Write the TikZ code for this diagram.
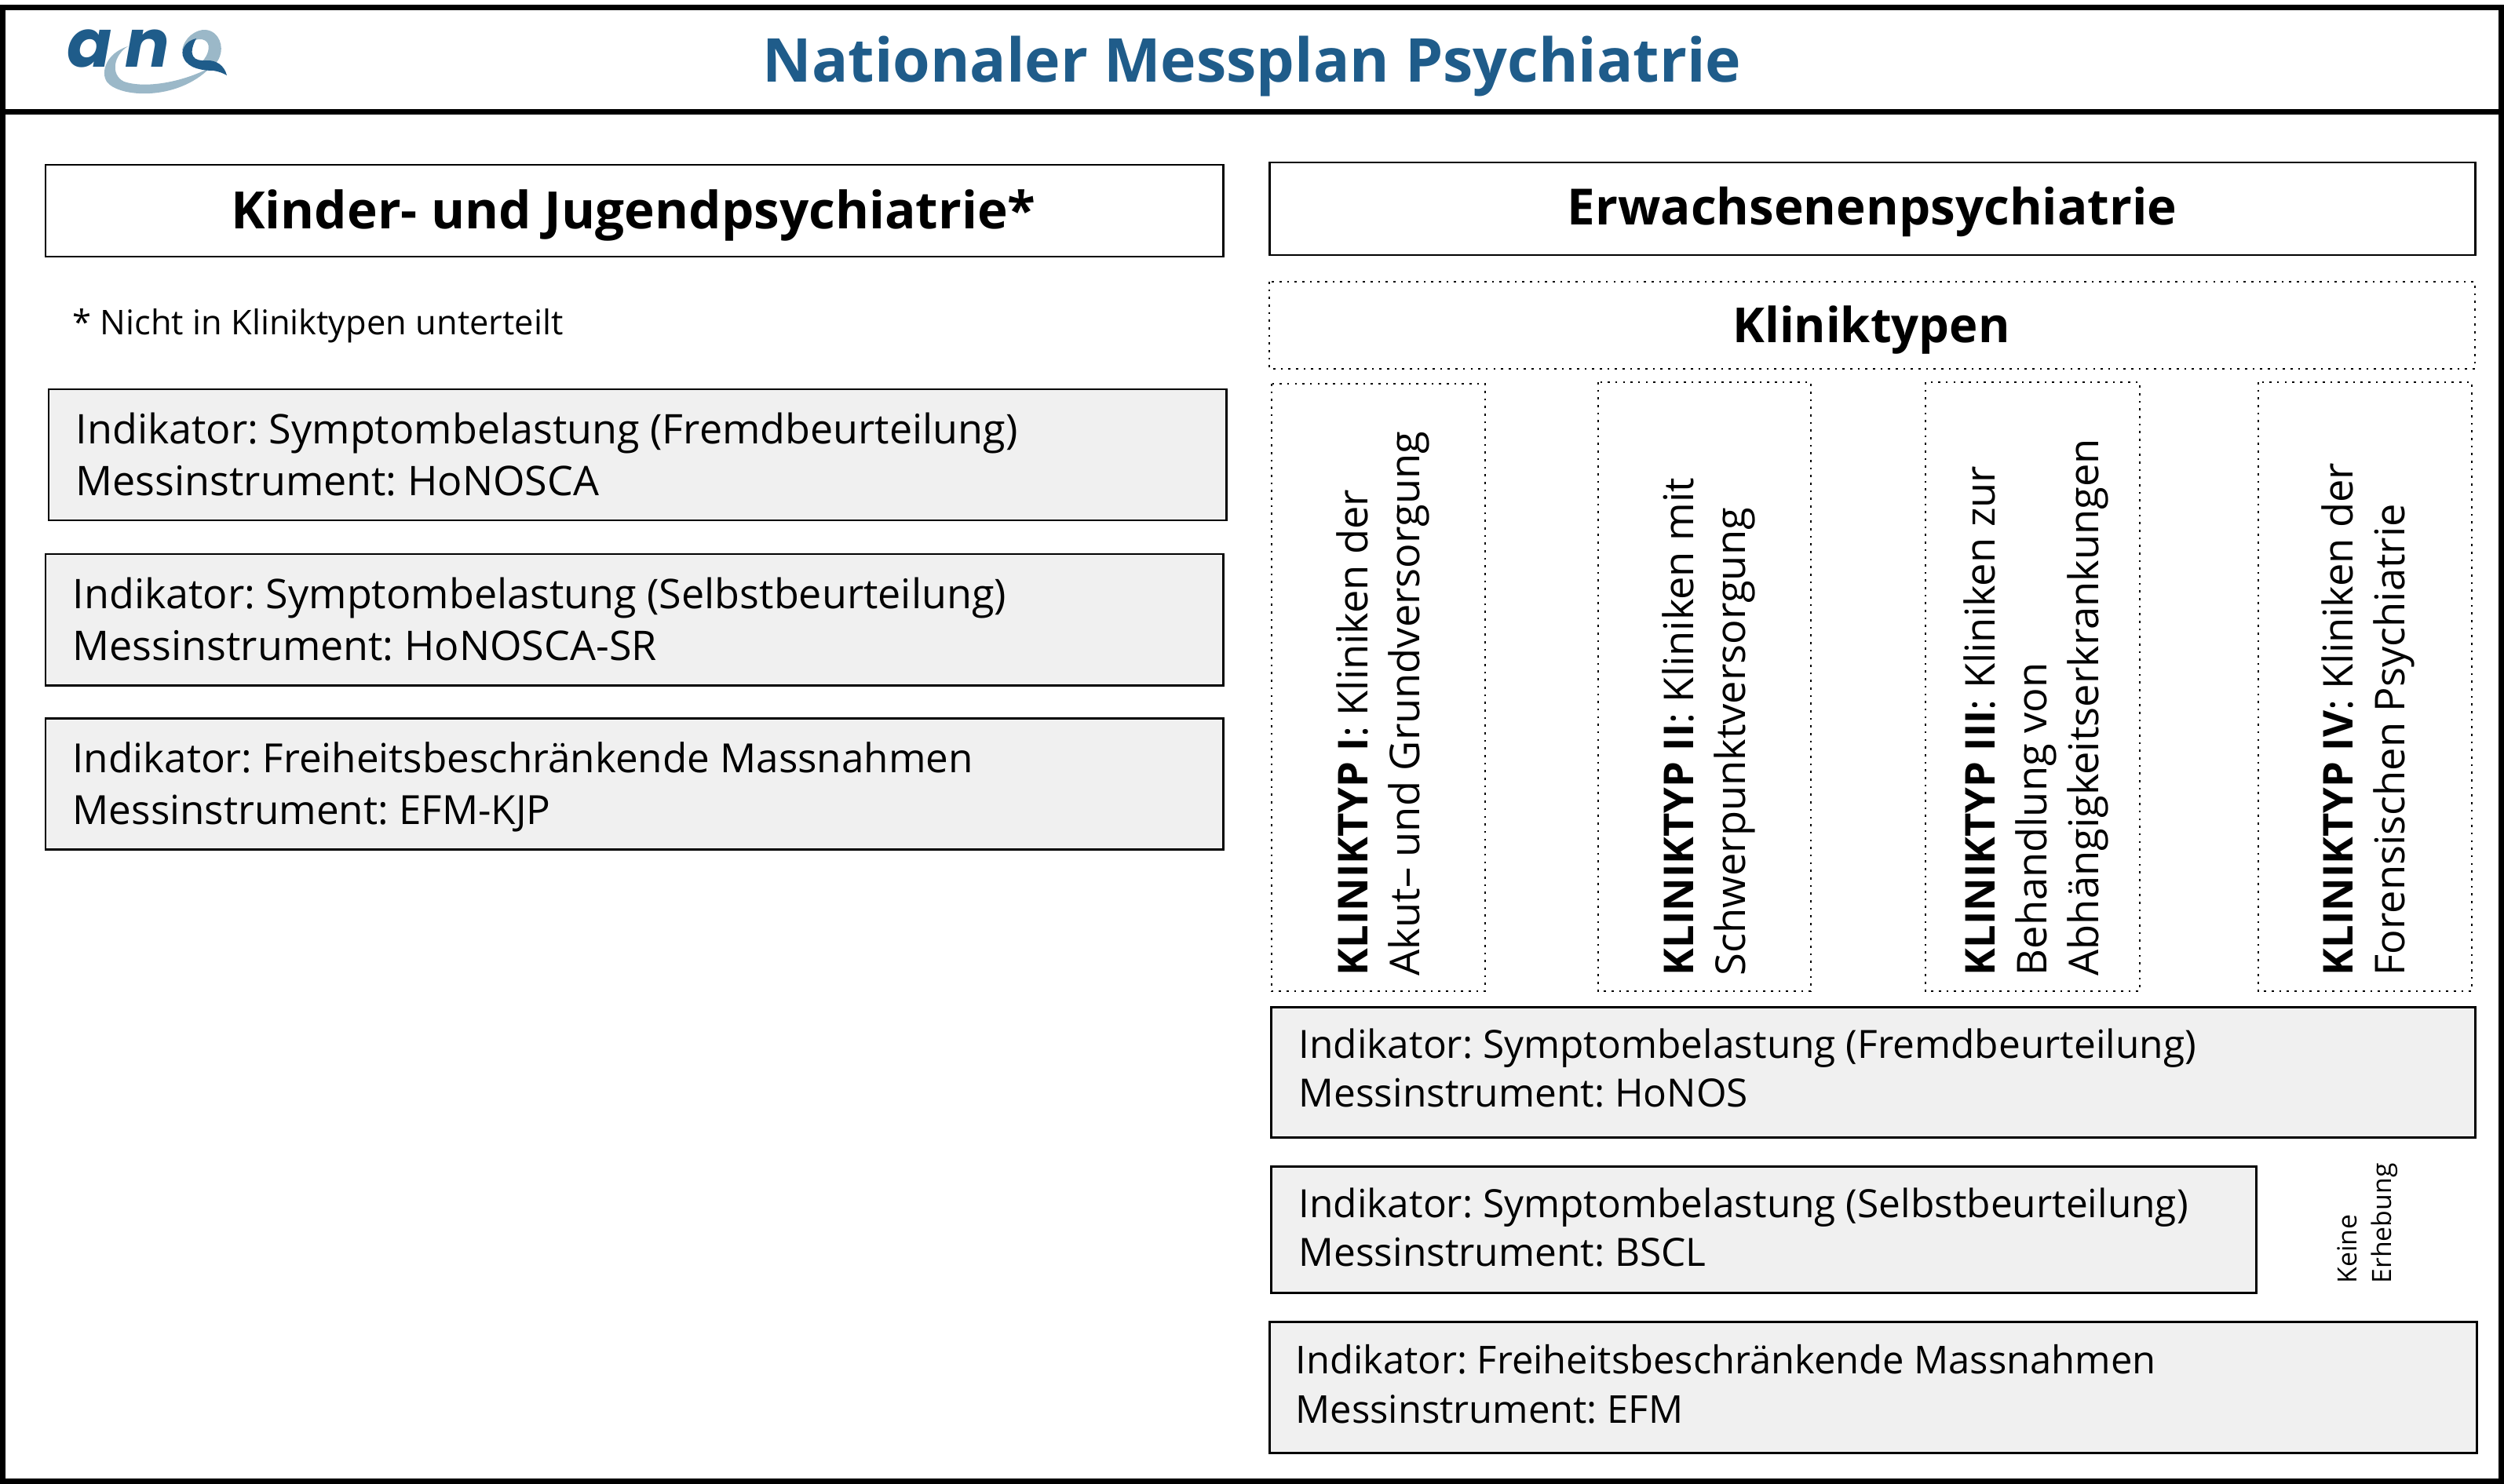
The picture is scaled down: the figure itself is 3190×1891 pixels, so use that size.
\documentclass[tikz,border=0pt]{standalone}
\usepackage{fontspec}
\setmainfont{Open Sans}
\newfontfamily\logofont{Poppins}
\definecolor{anoBlue}{HTML}{1F5C8A}
\definecolor{anoLight}{HTML}{9BB8C8}
\definecolor{boxGrey}{HTML}{F0F0F0}
\usepackage{tikz}

\tikzset{
  framebox/.style={draw=black, line width=2pt},
  headbox/.style={draw=black, line width=0.85pt},
  dotbox/.style={draw=black, dotted, line width=0.75pt},
  indbox/.style={draw=black, fill=boxGrey, line width=0.85pt},
  headtext/.style={inner sep=0pt},
  logotext/.style={text=anoBlue, font=\fontsize{24}{24}\selectfont\logofont\bfseries\itshape, inner sep=0pt, anchor=base},
  indleft/.style={anchor=west, align=left, inner sep=0pt, font=\fontsize{14.8}{18.8}\selectfont},
  indright/.style={anchor=west, align=left, inner sep=0pt, font=\fontsize{14.1}{17.9}\selectfont},
  typetext/.style={anchor=west, rotate=90, align=left, inner sep=0pt, font=\fontsize{14.9}{18.8}\selectfont},
}

\begin{document}
\frenchspacing
\begin{tikzpicture}[x=0.01cm, y=-0.01cm]
  \useasboundingbox (0,0) rectangle (3190,1891);

  % Outer frame and title row
  \draw[framebox] (3.5,9.5) rectangle (3186.5,1887.5);
  \draw[framebox] (3.5,142.5) -- (3186.5,142.5);
  \node[font=\fontsize{21.9}{26}\selectfont\bfseries, text=anoBlue, inner sep=0pt] (title) at (1595,84)
    {Nationaler Messplan Psychiatrie};

  % Logo
  \fill[anoLight] (163,59) .. controls (135,68) and (128,92) .. (136,104)
    .. controls (150,124) and (225,130) .. (268,86)
    .. controls (232,105) and (185,113) .. (158,104)
    .. controls (140,95) and (145,70) .. (163,59);
  \fill[anoLight] (232,65) .. controls (234,48) and (250,37) .. (262,38)
    .. controls (280,40) and (285,60) .. (280,72)
    .. controls (277,80) and (272,84) .. (268,86) -- (258,78)
    .. controls (265,70) and (268,60) .. (264,54)
    .. controls (258,46) and (240,50) .. (232,65);
  \fill[anoBlue] (250,49) .. controls (236,52) and (229,65) .. (234,74)
    .. controls (240,88) and (260,90) .. (272,90)
    .. controls (278,91) and (284,93) .. (289,96)
    .. controls (286,84) and (276,76) .. (262,77)
    .. controls (248,78) and (238,72) .. (250,49);
  \node[logotext] (loga) at (114,86) {a};
  \node[logotext] (logn) at (188,86) {n};

  % Left column
  \draw[headbox] (58,210) rectangle (1558,327);
  \node[headtext, font=\fontsize{18.65}{22}\selectfont\bfseries] (kjp) at (807,274) {Kinder- und Jugendpsychiatrie*};
  \node[anchor=west, inner sep=0pt, font=\fontsize{12.35}{15}\selectfont] (note) at (92,415) {* Nicht in Kliniktypen unterteilt};

  \draw[indbox] (62,496) rectangle (1562,663);
  \node[indleft] (kjpfremd) at (96,579) {Indikator: Symptombelastung (Fremdbeurteilung)\\Messinstrument: HoNOSCA};
  \draw[indbox] (58,706) rectangle (1558,873);
  \node[indleft] (kjpselbst) at (92,789) {Indikator: Symptombelastung (Selbstbeurteilung)\\Messinstrument: HoNOSCA-SR};
  \draw[indbox] (58,915) rectangle (1558,1082);
  \node[indleft, font=\fontsize{14.55}{18.8}\selectfont] (kjpefm) at (92,1003) {Indikator: Freiheitsbeschränkende Massnahmen\\Messinstrument: EFM-KJP};

  % Right column
  \draw[headbox] (1617,207) rectangle (3153,325);
  \node[headtext, font=\fontsize{18.1}{22}\selectfont\bfseries] (erw) at (2385,270) {Erwachsenenpsychiatrie};
  \draw[dotbox] (1617,359) rectangle (3153,470);
  \node[headtext, font=\fontsize{17.5}{21}\selectfont\bfseries] (typen) at (2384,421) {Kliniktypen};

  % Clinic types
  \draw[dotbox] (1620,489) rectangle (1892,1263);
  \node[typetext] (typeI) at (1762,1244) {\textbf{KLINIKTYP I}: Kliniken der\\Akut– und Grundversorgung};
  \draw[dotbox] (2036,487) rectangle (2307,1263);
  \node[typetext] (typeII) at (2177,1244) {\textbf{KLINIKTYP II}: Kliniken mit\\Schwerpunktversorgung};
  \draw[dotbox] (2453,487) rectangle (2726,1263);
  \node[typetext] (typeIII) at (2594,1244) {\textbf{KLINIKTYP III}: Kliniken zur\\Behandlung von\\Abhängigkeitserkrankungen};
  \draw[dotbox] (2877,487) rectangle (3149,1263);
  \node[typetext] (typeIV) at (3017,1244) {\textbf{KLINIKTYP IV}: Kliniken der\\Forensischen Psychiatrie};

  % Indicators for adults
  \draw[indbox] (1619,1283) rectangle (3153,1449);
  \node[indright] (erwfremd) at (1654,1361) {Indikator: Symptombelastung (Fremdbeurteilung)\\Messinstrument: HoNOS};
  \draw[indbox] (1619,1486) rectangle (2874,1647);
  \node[indright] (erwselbst) at (1654,1564) {Indikator: Symptombelastung (Selbstbeurteilung)\\Messinstrument: BSCL};
  \node[anchor=west, rotate=90, align=left, inner sep=0pt, font=\fontsize{9.6}{12.4}\selectfont] (keine) at (3016,1636) {Keine\\Erhebung};
  \draw[indbox] (1617,1684) rectangle (3155,1851);
  \node[indright, font=\fontsize{13.9}{17.9}\selectfont] (erwefm) at (1650,1764) {Indikator: Freiheitsbeschränkende Massnahmen\\Messinstrument: EFM};
\end{tikzpicture}
\end{document}
